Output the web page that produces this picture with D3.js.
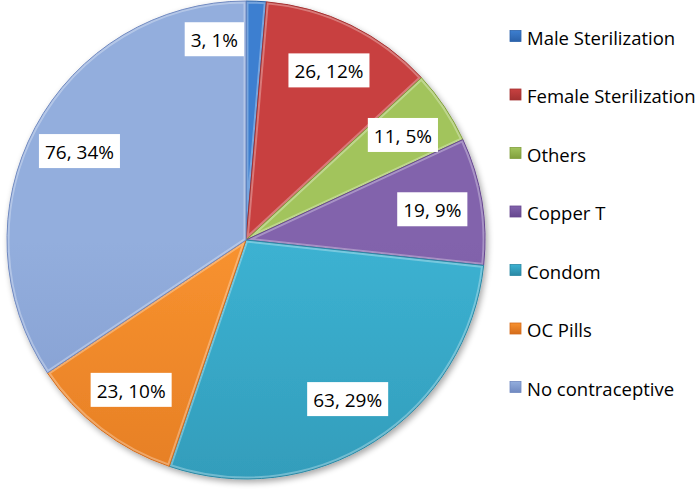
<!DOCTYPE html>
<html>
<head>
<meta charset="utf-8">
<script src="https://d3js.org/d3.v7.min.js"></script>
<style>
  body { margin: 0; background: #fff; }
  svg text { font-family: "Open Sans", "Liberation Sans", sans-serif; fill: #000; }
</style>
</head>
<body>
<svg id="chart"></svg>
<script>
  // Contraceptive use data
  const categories = ["Male Sterilization", "Female Sterilization", "Others", "Copper T", "Condom", "OC Pills", "No contraceptive"];
  const counts = [3, 26, 11, 19, 63, 23, 76];
  const topColors = ["#3d7fd0", "#c84140", "#a2c45c", "#8263ac", "#3cb2d2", "#f8922f", "#93aedd"];
  const bottomColors = ["#2b62aa", "#a33131", "#819f3c", "#66478f", "#2a88a4", "#d46c1c", "#7089c0"];

  const width = 696, height = 490;
  const cx = 246, cy = 240, radius = 239;
  const total = d3.sum(counts);

  const data = categories.map((c, i) => ({ name: c, value: counts[i], i }));

  const svg = d3.select("#chart")
    .attr("width", width)
    .attr("height", height);

  const defs = svg.append("defs");

  // vertical gradients over the pie's extent
  data.forEach(d => {
    const g = defs.append("linearGradient")
      .attr("id", "grad" + d.i)
      .attr("gradientUnits", "userSpaceOnUse")
      .attr("x1", 0).attr("y1", cy - radius)
      .attr("x2", 0).attr("y2", cy + radius);
    g.append("stop").attr("offset", "0%").attr("stop-color", topColors[d.i]);
    g.append("stop").attr("offset", "100%").attr("stop-color", bottomColors[d.i]);
  });

  // soft shadow under the pie
  const shadow = defs.append("filter").attr("id", "shadow")
    .attr("x", "-10%").attr("y", "-10%").attr("width", "120%").attr("height", "120%");
  shadow.append("feGaussianBlur").attr("in", "SourceAlpha").attr("stdDeviation", 3);
  shadow.append("feOffset").attr("dx", 2).attr("dy", 3).attr("result", "off");
  shadow.append("feComponentTransfer").append("feFuncA").attr("type", "linear").attr("slope", 0.35);
  const merge = shadow.append("feMerge");
  merge.append("feMergeNode");
  merge.append("feMergeNode").attr("in", "SourceGraphic");

  const pie = d3.pie().value(d => d.value).sort(null);
  const arc = d3.arc().innerRadius(0).outerRadius(radius);
  const arcs = pie(data);

  const pieG = svg.append("g")
    .attr("transform", `translate(${cx},${cy})`);

  const sliceG = pieG.append("g").attr("filter", "url(#shadow)");

  arcs.forEach(a => {
    defs.append("clipPath").attr("id", "clip" + a.data.i)
      .append("path").attr("d", arc(a));
  });

  const slices = sliceG.selectAll("g.slice")
    .data(arcs)
    .enter()
    .append("g")
    .attr("class", "slice");

  slices.append("path")
    .attr("d", arc)
    .attr("fill", d => `url(#grad${d.data.i})`);

  // bevel: light inner edge
  slices.append("path")
    .attr("d", arc)
    .attr("fill", "none")
    .attr("stroke", "#fff")
    .attr("stroke-opacity", 0.3)
    .attr("stroke-width", 5)
    .attr("clip-path", d => `url(#clip${d.data.i})`);

  slices.append("path")
    .attr("d", arc)
    .attr("fill", "none")
    .attr("stroke", d => bottomColors[d.data.i])
    .attr("stroke-width", 1);

  // data labels
  const labelArc = d3.arc().innerRadius(radius * 0.79).outerRadius(radius * 0.79);
  const fontSize = 19;

  arcs.forEach(a => {
    const pct = Math.round(a.data.value / total * 100);
    const txt = `${a.data.value}, ${pct}%`;
    let [x, y] = labelArc.centroid(a);
    const g = pieG.append("g");
    const t = g.append("text")
      .attr("font-size", fontSize)
      .attr("text-anchor", "middle")
      .attr("dominant-baseline", "central")
      .text(txt);
    const w = t.node().getComputedTextLength();
    const boxW = w + 12, boxH = 34;
    // tiny slice: put the label box beside the slice
    if (a.endAngle - a.startAngle < 0.2) {
      x = radius * Math.sin(a.startAngle) - 2 - boxW / 2;
      y = -radius * 0.84;
    }
    g.attr("transform", `translate(${x},${y})`);
    g.insert("rect", "text")
      .attr("x", -boxW / 2)
      .attr("y", -boxH / 2)
      .attr("width", boxW)
      .attr("height", boxH)
      .attr("fill", "#fff");
    t.attr("y", 1);
  });

  // legend
  const legendY = d3.scalePoint()
    .domain(categories)
    .range([36, 387]);

  data.forEach(d => {
    const g = defs.append("linearGradient")
      .attr("id", "lg" + d.i)
      .attr("x1", 0).attr("y1", 0).attr("x2", 0).attr("y2", 1);
    g.append("stop").attr("offset", "0%").attr("stop-color", topColors[d.i]);
    g.append("stop").attr("offset", "100%").attr("stop-color", bottomColors[d.i]);
  });

  const legend = svg.append("g");
  const items = legend.selectAll("g")
    .data(data)
    .enter()
    .append("g")
    .attr("transform", d => `translate(510,${legendY(d.name)})`);

  items.append("rect")
    .attr("x", 0).attr("y", -5.5)
    .attr("width", 11).attr("height", 11)
    .attr("fill", d => `url(#lg${d.i})`)
    .attr("stroke", d => bottomColors[d.i])
    .attr("stroke-width", 0.8);

  items.append("text")
    .attr("x", 17)
    .attr("y", 1)
    .attr("font-size", 18.5)
    .attr("dominant-baseline", "central")
    .text(d => d.name);
</script>
</body>
</html>
